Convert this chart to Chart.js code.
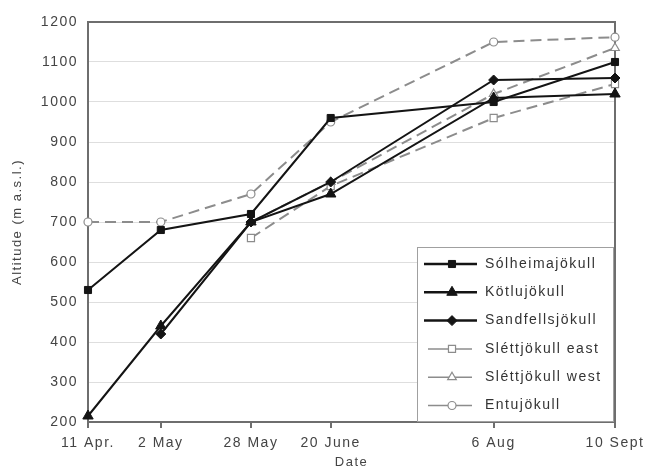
<!DOCTYPE html>
<html lang="en">
<head>
<meta charset="UTF-8">
<title>Snow line altitude</title>
<script src="https://cdn.jsdelivr.net/npm/chart.js"></script>
<style>
  html, body { margin: 0; padding: 0; background: #fff; }
  #wrap { width: 654px; height: 470px; }
</style>
</head>
<body>
<div id="wrap"><canvas id="altChart" width="654" height="470"></canvas></div>
<script>
// days after 11 April for each survey date
const dayOffsets = [0, 21, 47, 70, 117, 152];
const dateLabels = ['11 Apr.', '2 May', '28 May', '20 June', '6 Aug', '10 Sept'];

const solheimajokull = [530, 680, 720, 960, 1000, 1100];
const kotlujokull = [215, 440, 700, 770, 1010, 1020];
const sandfellsjokull = [null, 420, 700, 800, 1055, 1060];
const slettEast = [null, null, 660, 790, 960, 1045];
const slettWest = [null, null, 700, 800, 1020, 1135];
const entujokull = [700, 700, 770, 950, 1150, 1162];

function pts(vals) {
    return vals.map((v, i) => ({ x: dayOffsets[i], y: v }));
}

const BLACK = '#141414';
const GREY = '#8c8c8c';
const FONT = '"Liberation Sans", Arial, sans-serif';

function solid(label, vals, style, radius) {
    return {
        label: label, data: pts(vals), clip: false,
        borderColor: BLACK, backgroundColor: BLACK,
        borderWidth: 2, pointStyle: style, pointRadius: radius,
        pointBorderColor: BLACK, pointBackgroundColor: BLACK,
        pointBorderWidth: 1, spanGaps: false
    };
}
function dashed(label, vals, style, radius) {
    return {
        label: label, data: pts(vals), clip: false,
        borderColor: GREY, backgroundColor: '#fff',
        borderWidth: 2, borderDash: [11, 6], pointStyle: style, pointRadius: radius,
        pointBorderColor: GREY, pointBackgroundColor: '#fff',
        pointBorderWidth: 1.2, spanGaps: false
    };
}

// wider letter spacing, like the scanned figure
const spacingPlugin = {
    id: 'spacing',
    beforeUpdate(chart) { chart.ctx.letterSpacing = '1.5px'; },
    beforeDraw(chart) { chart.ctx.letterSpacing = '1.5px'; }
};

// chart frame (top + right) and legend box inside plot
const framePlugin = {
    id: 'frame',
    beforeDatasetsDraw(chart) {
        const a = chart.chartArea, c = chart.ctx;
        c.save();
        c.strokeStyle = '#6e6e6e';
        c.lineWidth = 2;
        c.strokeRect(a.left, a.top, a.right - a.left, a.bottom - a.top);
        c.restore();
    },
    afterDraw(chart) {
        const c = chart.ctx;
        const bx = 417, by = 247, bw = 196, bh = 174;
        c.save();
        c.fillStyle = '#fff';
        c.fillRect(bx, by, bw, bh);
        c.strokeStyle = '#a0a0a0';
        c.lineWidth = 1;
        c.strokeRect(bx + 0.5, by + 0.5, bw, bh);
        chart.data.datasets.forEach((ds, i) => {
            const y = 264 + i * 28.3;
            const grey = ds.borderColor === GREY;
            c.strokeStyle = ds.borderColor;
            c.lineWidth = grey ? 1.5 : 2.5;
            c.setLineDash([]);
            c.beginPath();
            c.moveTo(grey ? 428 : 424, y);
            c.lineTo(grey ? 472 : 477, y);
            c.stroke();
            c.fillStyle = ds.pointBackgroundColor;
            c.strokeStyle = ds.pointBorderColor;
            c.lineWidth = ds.pointBorderWidth;
            Chart.helpers.drawPoint(c, {
                pointStyle: ds.pointStyle, radius: ds.pointRadius,
                borderWidth: ds.pointBorderWidth
            }, 452, y);
            c.fillStyle = '#333';
            c.font = '14px ' + FONT;
            c.textBaseline = 'middle';
            c.fillText(ds.label, 485, y);
        });
        c.restore();
    }
};

const ctx = document.getElementById('altChart').getContext('2d');
new Chart(ctx, {
    type: 'line',
    data: {
        datasets: [
            solid('Sólheimajökull', solheimajokull, 'rect', 5),
            solid('Kötlujökull', kotlujokull, 'triangle', 6),
            solid('Sandfellsjökull', sandfellsjokull, 'rectRot', 5),
            dashed('Sléttjökull east', slettEast, 'rect', 5),
            dashed('Sléttjökull west', slettWest, 'triangle', 5),
            dashed('Entujökull', entujokull, 'circle', 4)
        ]
    },
    options: {
        responsive: false,
        animation: false,
        layout: { padding: { left: 10, right: 39, top: 22, bottom: 0 } },
        plugins: {
            legend: { display: false },
            tooltip: { enabled: false }
        },
        scales: {
            x: {
                type: 'linear',
                min: 0, max: 152,
                afterBuildTicks: (scale) => {
                    scale.ticks = dayOffsets.map(v => ({ value: v }));
                },
                afterFit: (scale) => { scale.height = 48; },
                ticks: {
                    autoSkip: false, maxRotation: 0, padding: 7,
                    color: '#444',
                    font: { family: FONT, size: 14 },
                    callback: (v) => dateLabels[dayOffsets.indexOf(v)]
                },
                grid: {
                    drawOnChartArea: false, drawTicks: true, tickLength: 6,
                    color: '#6e6e6e', lineWidth: 2
                },
                border: { color: '#6e6e6e', width: 2 },
                title: {
                    display: true, text: 'Date', color: '#444',
                    font: { family: FONT, size: 13 },
                    padding: { top: 0, bottom: 0 }
                }
            },
            y: {
                min: 200, max: 1200,
                afterFit: (scale) => { scale.width = 78; },
                ticks: {
                    stepSize: 100, padding: 10, color: '#444',
                    font: { family: FONT, size: 14 },
                    callback: (v) => String(v)
                },
                grid: { color: '#dedede', lineWidth: 1, drawTicks: false },
                border: { color: '#6e6e6e', width: 2 },
                title: {
                    display: true, text: 'Altitude (m a.s.l.)', color: '#444',
                    font: { family: FONT, size: 13 },
                    padding: { top: 0, bottom: 4 }
                }
            }
        }
    },
    plugins: [spacingPlugin, framePlugin]
});
</script>
</body>
</html>
